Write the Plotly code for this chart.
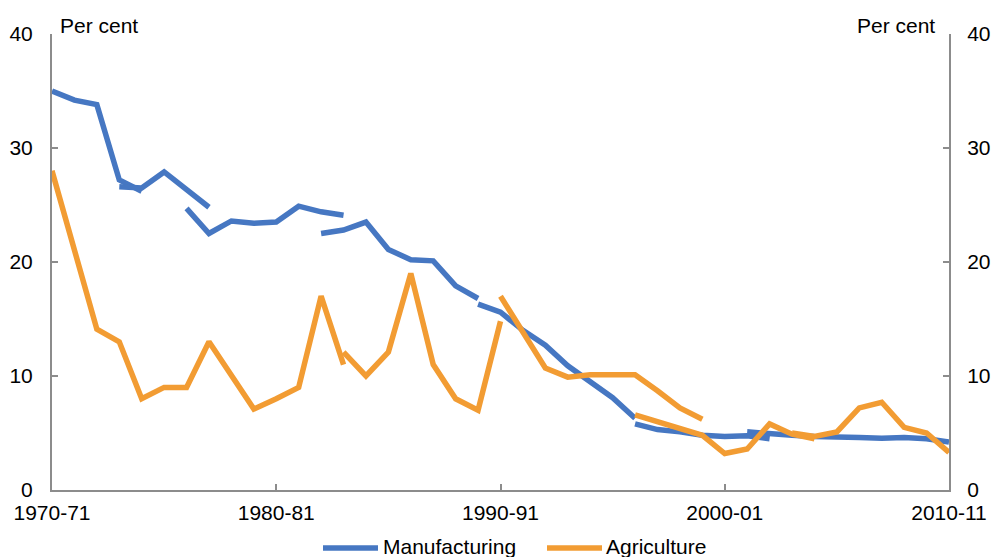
import plotly.graph_objects as go

# ---- data -------------------------------------------------------------
years = [f"{y}-{str(y + 1)[-2:]}" for y in range(1970, 2011)]  # 1970-71 .. 2010-11
tick_years = ["1970-71", "1980-81", "1990-91", "2000-01", "2010-11"]

# Manufacturing (broken series: start index into years, values)
manu_a_start = 0
manu_a = [35.0, 34.2, 33.8, 27.2, 26.2]
manu_b_start = 3
manu_b = [26.6, 26.5, 27.9, 26.4, 24.8]
manu_c_start = 6
manu_c = [24.7, 22.5, 23.6, 23.4, 23.5, 24.9, 24.4, 24.1]
manu_d_start = 12
manu_d = [22.5, 22.8, 23.5, 21.1, 20.2, 20.1, 17.9, 16.8]
manu_e_start = 19
manu_e = [16.3, 15.6, 14.0, 12.7, 10.9, 9.5, 8.1, 6.3]
manu_f_start = 26
manu_f = [5.8, 5.3, 5.1, 4.8, 4.7, 4.75, 4.5]
manu_g_start = 31
manu_g = [5.1, 4.9, 4.8, 4.7, 4.6, 4.6, 4.55, 4.6, 4.5, 4.2]

# Agriculture (broken series)
agri_a_start = 0
agri_a = [28.0, 21.0, 14.1, 13.0, 8.0, 9.0, 9.0, 13.0, 10.1, 7.1, 8.0, 9.0, 17.0, 11.0]
agri_b_start = 13
agri_b = [12.1, 10.0, 12.1, 19.0, 11.0, 8.0, 7.0, 14.8]
agri_c_start = 20
agri_c = [17.0, 13.9, 10.7, 9.9, 10.1, 10.1, 10.1, 8.7, 7.2, 6.2]
agri_d_start = 26
agri_d = [6.6, 6.0, 5.3, 4.8, 3.2, 3.6, 5.8, 4.9, 4.5]
agri_e_start = 33
agri_e = [5.0, 4.7, 5.1, 7.2, 7.7, 5.5, 5.0, 3.3]

manu_segments = [(manu_a_start, manu_a), (manu_b_start, manu_b), (manu_c_start, manu_c),
                 (manu_d_start, manu_d), (manu_e_start, manu_e), (manu_f_start, manu_f),
                 (manu_g_start, manu_g)]
agri_segments = [(agri_a_start, agri_a), (agri_b_start, agri_b), (agri_c_start, agri_c),
                 (agri_d_start, agri_d), (agri_e_start, agri_e)]

BLUE = "#4677C2"
ORANGE = "#F29C33"
GREY = "#8C8C8C"
FONT = "Liberation Sans, Arial, sans-serif"
FS = 21

fig = go.Figure()


def add_segments(segs, color, name):
    for start, vals in segs:
        xs = list(range(start, start + len(vals)))
        fig.add_trace(go.Scatter(
            x=xs, y=vals, mode="lines", name=name, showlegend=False,
            line=dict(color=color, width=5.5),
            customdata=[years[i] for i in xs],
            hovertemplate="%{customdata}: %{y}<extra>" + name + "</extra>",
        ))


add_segments(manu_segments, BLUE, "Manufacturing")
add_segments(agri_segments, ORANGE, "Agriculture")

tick_pos = [years.index(t) for t in tick_years]

axis_common = dict(
    showgrid=False, zeroline=False, showline=True, linecolor=GREY, linewidth=2,
    ticks="inside", ticklen=6, tickwidth=2, tickcolor=GREY, automargin=False,
    tickfont=dict(family=FONT, size=FS, color="black"),
)

fig.update_layout(
    width=993, height=557,
    margin=dict(l=52, r=44, t=34, b=67),
    paper_bgcolor="white", plot_bgcolor="white",
    showlegend=False,
    font=dict(family=FONT, size=FS, color="black"),
    xaxis=dict(range=[0, len(years) - 1], tickvals=tick_pos, ticktext=tick_years,
               ticklabelstandoff=3, **axis_common),
    yaxis=dict(range=[0, 40], tickvals=[0, 10, 20, 30, 40], side="left",
               ticklabelstandoff=13, **axis_common),
    yaxis2=dict(range=[0, 40], tickvals=[0, 10, 20, 30, 40], side="right",
                overlaying="y", anchor="x", ticklabelstandoff=12, **axis_common),
)

# invisible trace so the right axis is drawn
fig.add_trace(go.Scatter(x=[0], y=[0], yaxis="y2", mode="lines", showlegend=False,
                         hoverinfo="skip", line=dict(width=0), opacity=0))

# axis unit labels
fig.add_annotation(text="Per cent", xref="paper", yref="paper", x=(58 - 52) / 897,
                   y=(490 - 25) / 456, xanchor="left", yanchor="middle",
                   showarrow=False, font=dict(family=FONT, size=FS))
fig.add_annotation(text="Per cent", xref="paper", yref="paper", x=(937 - 52) / 897,
                   y=(490 - 25) / 456, xanchor="right", yanchor="middle",
                   showarrow=False, font=dict(family=FONT, size=FS))

# legend drawn manually (long line samples)
legend_items = [("Manufacturing", BLUE, 323, 378, 381), ("Agriculture", ORANGE, 547, 602, 604)]
ly = (490 - 548) / 456
for name, color, x0, x1, xt in legend_items:
    fig.add_shape(type="line", xref="paper", yref="paper",
                  x0=(x0 - 52) / 897, x1=(x1 - 52) / 897, y0=ly, y1=ly,
                  line=dict(color=color, width=5.5))
    fig.add_annotation(text=name, xref="paper", yref="paper", x=(xt - 52) / 897,
                       y=(490 - 546) / 456, xanchor="left", yanchor="middle",
                       showarrow=False, font=dict(family=FONT, size=FS))

fig.write_html("out.html", config={"displayModeBar": False},
               post_script="document.body.style.margin='0';document.body.style.overflow='hidden';")
